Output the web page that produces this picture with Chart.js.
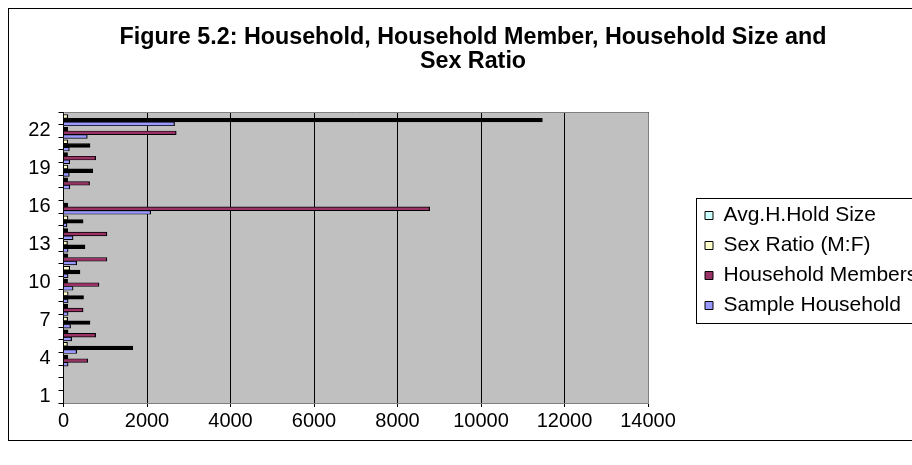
<!DOCTYPE html>
<html>
<head>
<meta charset="utf-8">
<script src="https://cdn.jsdelivr.net/npm/chart.js@4/dist/chart.umd.min.js"></script>
<style>
  html, body { margin: 0; padding: 0; background: #fff; overflow: hidden; }
  #wrap { position: relative; width: 946px; height: 465px; }
</style>
</head>
<body>
<div id="wrap"><canvas id="chart"></canvas></div>
<script>
// Survey rows 1..23 (17 is an empty row; 16, 22 and 23 are subtotal/total rows)
const categories = ['1','2','3','4','5','6','7','8','9','10','11','12','13','14','15','16','17','18','19','20','21','22','23'];
const yTickLabels = ['1','4','7','10','13','16','19','22'];
const xTickValues = [0, 2000, 4000, 6000, 8000, 10000, 12000, 14000];

const avgHouseholdSize = [0,0,0,5.3,5.3,3.9,3.7,4.3,4.4,3.7,3.6,3.3,4.7,4.5,5.5,4.2,0,4.0,4.5,5.0,4.1,4.7,4.3];
const sexRatio         = [0,0,0,105,95,110,100,102,112,98,150,104,96,101,108,103,0,99,106,97,103,100,102];
const householdMembers = [0,0,0,580,1660,770,635,470,480,850,395,1040,515,1040,470,8770,0,625,700,770,635,2700,11470];
const sampleHousehold  = [0,0,0,110,315,195,170,110,110,230,110,315,110,230,85,2090,0,150,140,150,140,570,2660];

const seriesColors = ['#CCFFFF', '#FFFFCC', '#993366', '#9999FF'];

const FONT = '"Liberation Sans", Arial, Helvetica, sans-serif';
const PLOT_RIGHT_SPACE = 298;   // room kept right of the plot for the legend
const LEGEND_LEFT = 696;

// rows with an odd number print the middle bar dark, even rows the top one
const oddRow = i => (i + 1) % 2 === 1;
const fillFor = (light, darkOnOdd) => ctx => {
  if (ctx.type !== 'data') return light;
  return oddRow(ctx.dataIndex) === darkOnOdd ? '#000000' : light;
};
const barBorder = { top: 0.9, bottom: 0.9, right: 1.2, left: 0 };

const decor = {
  id: 'decor',
  afterLayout(chart) {
    const lg = chart.legend;
    const a = chart.chartArea;
    const dx = LEGEND_LEFT - lg.left;
    lg.left += dx;
    lg.right += dx;
    lg.top = a.top;
    lg.bottom = a.bottom + 6;
    lg.height = lg.bottom - lg.top;
  },
  beforeDraw(chart) {
    const { ctx, chartArea: a } = chart;
    ctx.save();
    ctx.fillStyle = '#ffffff';
    ctx.fillRect(0, 0, chart.width, chart.height);
    ctx.fillStyle = '#C0C0C0';
    ctx.fillRect(a.left, a.top, a.right - a.left, a.bottom - a.top);
    ctx.restore();
  },
  beforeDatasetsDraw(chart) {
    const { ctx, chartArea: a } = chart;
    ctx.save();
    ctx.strokeStyle = '#808080';
    ctx.lineWidth = 1;
    ctx.beginPath();
    ctx.moveTo(Math.round(a.left) + 0.5, Math.round(a.top) + 0.5);
    ctx.lineTo(Math.round(a.right) + 0.5, Math.round(a.top) + 0.5);
    ctx.lineTo(Math.round(a.right) + 0.5, Math.round(a.bottom) + 0.5);
    ctx.stroke();
    ctx.restore();
  },
  afterDraw(chart) {
    const { ctx } = chart;
    const lg = chart.legend;
    const hb = lg.legendHitBoxes;
    ctx.save();
    ctx.strokeStyle = '#000';
    ctx.lineWidth = 1;
    if (hb && hb.length) {
      const last = hb[hb.length - 1];
      const top = Math.round(hb[0].top - 7) + 0.5;
      const bottom = Math.round(last.top + last.height + 7) + 0.5;
      ctx.strokeRect(Math.round(lg.left) + 0.5, top, 400, bottom - top);
    }
    // chart frame
    ctx.strokeRect(8.5, 8.5, 1000, 432);
    ctx.restore();
  }
};

new Chart(document.getElementById('chart'), {
  type: 'bar',
  data: {
    labels: categories,
    datasets: [
      { label: 'Avg.H.Hold Size', data: avgHouseholdSize,
        backgroundColor: seriesColors[0], borderColor: '#000', borderWidth: barBorder },
      { label: 'Sex Ratio (M:F)', data: sexRatio,
        backgroundColor: fillFor(seriesColors[1], false), borderColor: '#000', borderWidth: barBorder },
      { label: 'Household Members', data: householdMembers,
        backgroundColor: fillFor(seriesColors[2], true), borderColor: '#000', borderWidth: barBorder },
      { label: 'Sample Household', data: sampleHousehold,
        backgroundColor: seriesColors[3], borderColor: '#000', borderWidth: barBorder }
    ]
  },
  options: {
    indexAxis: 'y',
    responsive: true,
    maintainAspectRatio: false,
    animation: false,
    devicePixelRatio: 1,
    datasets: { bar: { barThickness: 3.7 } },
    layout: { padding: { left: 10, right: 10, top: 14, bottom: 30 } },
    scales: {
      x: {
        min: xTickValues[0],
        max: xTickValues[xTickValues.length - 1],
        afterFit(s) { s.paddingRight = Math.max(s.paddingRight, PLOT_RIGHT_SPACE); },
        ticks: {
          stepSize: xTickValues[1] - xTickValues[0],
          color: '#000',
          padding: 2,
          font: { family: FONT, size: 20 },
          callback: v => String(v)
        },
        grid: { color: '#000', lineWidth: 1, tickLength: 4, drawTicks: true },
        border: { display: true, color: '#808080', width: 1 }
      },
      y: {
        reverse: true,
        afterFit(s) { s.width = 53.5; },
        ticks: {
          autoSkip: false,
          color: '#000',
          padding: 8,
          font: { family: FONT, size: 20 },
          callback(value) {
            const lab = this.getLabelForValue(value);
            return yTickLabels.includes(lab) ? lab : '';
          }
        },
        grid: { offset: true, drawOnChartArea: false, drawTicks: true, tickLength: 5, color: '#000' },
        border: { display: true, color: '#000', width: 1 }
      }
    },
    plugins: {
      title: {
        display: true,
        text: ['Figure 5.2: Household, Household Member, Household Size and', 'Sex Ratio'],
        color: '#000',
        font: { family: FONT, size: 23.3, weight: 'bold', lineHeight: '24px' },
        padding: { top: 12, bottom: 38 }
      },
      legend: {
        position: 'right',
        align: 'center',
        labels: {
          boxWidth: 8,
          boxHeight: 8,
          padding: 9,
          color: '#000',
          font: { family: FONT, size: 21 },
          generateLabels(chart) {
            const items = Chart.defaults.plugins.legend.labels.generateLabels(chart);
            items.forEach((it, i) => {
              it.fillStyle = seriesColors[i];
              it.lineWidth = 1;
              it.strokeStyle = '#000';
            });
            return items;
          }
        }
      },
      tooltip: { enabled: false }
    }
  },
  plugins: [decor]
});
</script>
</body>
</html>
